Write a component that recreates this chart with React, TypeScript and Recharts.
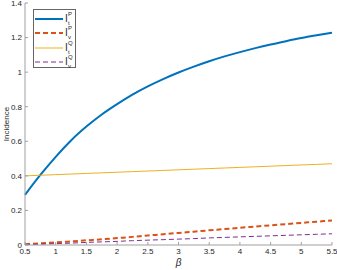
import React from 'react';
import { LineChart, Line, XAxis, YAxis } from 'recharts';

const betas = [0.5, 0.75, 1, 1.25, 1.5, 1.75, 2, 2.25, 2.5, 2.75, 3, 3.25, 3.5, 3.75, 4, 4.25, 4.5, 4.75, 5, 5.25, 5.5];
const ItP = [0.29, 0.405, 0.51, 0.605, 0.685, 0.755, 0.815, 0.87, 0.918, 0.96, 0.998, 1.032, 1.063, 1.091, 1.116, 1.139, 1.16, 1.179, 1.197, 1.213, 1.228];
const IvP = [0.005, 0.01, 0.015, 0.021, 0.027, 0.033, 0.04, 0.047, 0.055, 0.062, 0.07, 0.077, 0.085, 0.092, 0.1, 0.107, 0.114, 0.121, 0.128, 0.135, 0.142];
const ItQ = [0.4, 0.4035, 0.407, 0.4105, 0.414, 0.4175, 0.421, 0.4245, 0.428, 0.4315, 0.435, 0.4385, 0.442, 0.4455, 0.449, 0.4525, 0.456, 0.4595, 0.463, 0.4665, 0.47];
const IvQ = [0.003, 0.005, 0.008, 0.011, 0.015, 0.018, 0.021, 0.025, 0.028, 0.031, 0.034, 0.037, 0.041, 0.044, 0.047, 0.05, 0.053, 0.056, 0.059, 0.062, 0.065];
const xTicks = [0.5, 1, 1.5, 2, 2.5, 3, 3.5, 4, 4.5, 5, 5.5];
const yTicks = [0, 0.2, 0.4, 0.6, 0.8, 1, 1.2, 1.4];

const data = betas.map((b, i) => ({ b, ItP: ItP[i], IvP: IvP[i], ItQ: ItQ[i], IvQ: IvQ[i] }));

const series = [
  { key: 'ItP', sub: 't', sup: 'P', color: '#0072BD', width: 2, dash: undefined as string | undefined },
  { key: 'IvP', sub: 'v', sup: 'P', color: '#D95319', width: 2, dash: '5 3' },
  { key: 'ItQ', sub: 't', sup: 'Q', color: '#EDB120', width: 1, dash: undefined },
  { key: 'IvQ', sub: 'v', sup: 'Q', color: '#7E2F8E', width: 1, dash: '5 3' },
];

const FONT = 'Liberation Sans, Arial, sans-serif';
const AXIS = '#a0a0a0';
const TXT = '#262626';

const LegendBox = () => (
  <div style={{ position: 'absolute', left: 33, top: 9, width: 43, height: 59, border: '1px solid #666', background: '#fff', boxSizing: 'border-box', fontFamily: FONT, color: TXT }}>
    {series.map((s, i) => (
      <div key={s.key} style={{ position: 'absolute', left: 0, top: 2 + i * 14.3, height: 14, width: 42 }}>
        <svg width={30} height={14} style={{ position: 'absolute', left: 1, top: 0 }}>
          <line x1={0} y1={7} x2={28} y2={7} stroke={s.color} strokeWidth={s.width} strokeDasharray={s.dash} />
        </svg>
        <span style={{ position: 'absolute', left: 31, top: 0, fontSize: 10, lineHeight: '14px' }}>I</span>
        <span style={{ position: 'absolute', left: 34, top: -1, fontSize: 6, lineHeight: '7px' }}>{s.sup}</span>
        <span style={{ position: 'absolute', left: 34, top: 8, fontSize: 6, lineHeight: '7px' }}>{s.sub}</span>
      </div>
    ))}
  </div>
);

const YLabel = () => (
  <text x={6} y={124} transform="rotate(-90 6 124)" textAnchor="middle" dominantBaseline="central" fill={TXT} fontSize={8} fontFamily={FONT}>
    Incidence
  </text>
);

export default function App() {
  return (
    <div style={{ position: 'absolute', left: 0, top: 0, width: 337, height: 270, background: '#fff' }}>
      <LineChart width={337} height={270} data={data} margin={{ top: 3, right: 5, left: 0, bottom: 0 }}>
        <XAxis
          dataKey="b"
          type="number"
          domain={[0.5, 5.5]}
          ticks={xTicks}
          interval={0}
          height={25}
          tickSize={-3}
          tickMargin={6}
          stroke={AXIS}
          tick={{ fill: TXT, fontSize: 8, fontFamily: FONT }}
          label={{ value: 'β', position: 'insideBottom', offset: 4, fill: TXT, fontSize: 10, fontStyle: 'italic', fontFamily: FONT }}
        />
        <XAxis
          xAxisId="top"
          dataKey="b"
          type="number"
          orientation="top"
          domain={[0.5, 5.5]}
          ticks={xTicks}
          interval={0}
          height={0}
          tickSize={-3}
          stroke={AXIS}
          tickFormatter={() => ''}
        />
        <YAxis
          type="number"
          domain={[0, 1.4]}
          ticks={yTicks}
          interval={0}
          width={25}
          tickSize={-3}
          tickMargin={6}
          stroke={AXIS}
          tick={{ fill: TXT, fontSize: 8, fontFamily: FONT }}
          tickFormatter={(v: number) => String(Math.round(v * 10) / 10)}
          label={{ content: () => <YLabel /> }}
        />
        <YAxis
          yAxisId="right"
          orientation="right"
          type="number"
          domain={[0, 1.4]}
          ticks={yTicks}
          interval={0}
          width={0}
          tickSize={-3}
          stroke={AXIS}
          tickFormatter={() => ''}
        />
        {series.map((s) => (
          <Line
            key={s.key}
            dataKey={s.key}
            type="monotone"
            stroke={s.color}
            strokeWidth={s.width}
            strokeDasharray={s.dash}
            dot={false}
            isAnimationActive={false}
          />
        ))}
      </LineChart>
      <LegendBox />
    </div>
  );
}
